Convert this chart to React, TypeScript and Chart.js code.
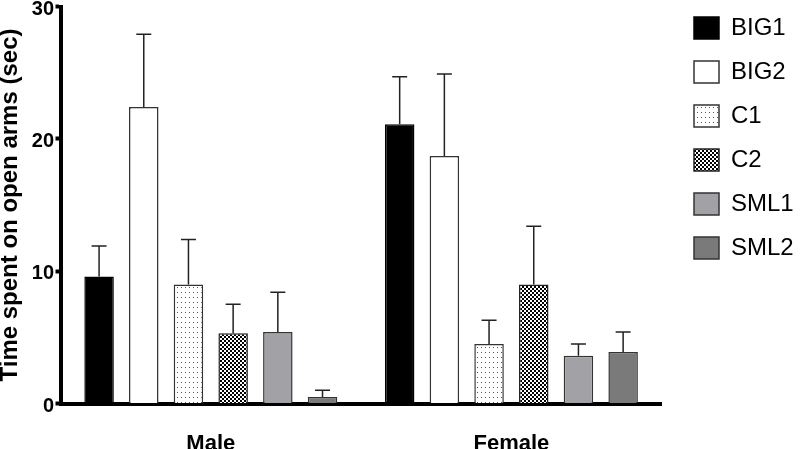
import React, { useEffect, useRef } from 'react';
import { Chart, registerables } from 'chart.js';

Chart.register(...registerables);

// ---- data ----
const categories = ['Male', 'Female'];
const seriesNames = ['BIG1', 'BIG2', 'C1', 'C2', 'SML1', 'SML2'];

const big1 = [9.6, 21.1];
const big1Sem = [2.3, 3.6];
const big2 = [22.4, 18.7];
const big2Sem = [5.5, 6.2];
const c1 = [9.0, 4.5];
const c1Sem = [3.4, 1.8];
const c2 = [5.3, 9.0];
const c2Sem = [2.2, 4.4];
const sml1 = [5.4, 3.6];
const sml1Sem = [3.0, 0.9];
const sml2 = [0.5, 3.9];
const sml2Sem = [0.5, 1.5];

const yMin = 0;
const yMax = 30;
const yStep = 10;
const yTitle = 'Time spent on open arms (sec)';

const FONT = "'Liberation Sans', Arial, Helvetica, sans-serif";

function makeDotPattern(): CanvasPattern | string {
  const c = document.createElement('canvas');
  c.width = 4;
  c.height = 5;
  const g = c.getContext('2d');
  if (!g) return '#fff';
  g.fillStyle = '#ffffff';
  g.fillRect(0, 0, 4, 5);
  g.fillStyle = '#555555';
  g.fillRect(1, 2, 1, 1);
  const p = g.createPattern(c, 'repeat');
  return p || '#fff';
}

function makeCheckPattern(): CanvasPattern | string {
  const c = document.createElement('canvas');
  c.width = 4;
  c.height = 4;
  const g = c.getContext('2d');
  if (!g) return '#444';
  g.fillStyle = '#ffffff';
  g.fillRect(0, 0, 4, 4);
  g.fillStyle = '#000000';
  g.fillRect(0, 0, 2, 2);
  g.fillRect(2, 2, 2, 2);
  const p = g.createPattern(c, 'repeat');
  return p || '#444';
}

const errorBarsPlugin = {
  id: 'errorBars',
  afterDatasetsDraw(chart: any) {
    const { ctx } = chart;
    const y = chart.scales.y;
    ctx.save();
    ctx.strokeStyle = '#222222';
    ctx.lineWidth = 1.5;
    chart.data.datasets.forEach((ds: any, i: number) => {
      const meta = chart.getDatasetMeta(i);
      meta.data.forEach((bar: any, j: number) => {
        const v = ds.data[j];
        const e = ds.sem[j];
        const yTop = y.getPixelForValue(v + e);
        const x = bar.x;
        ctx.beginPath();
        ctx.moveTo(x, bar.y);
        ctx.lineTo(x, yTop);
        ctx.moveTo(x - 7.5, yTop);
        ctx.lineTo(x + 7.5, yTop);
        ctx.stroke();
      });
    });
    ctx.restore();
  },
};

const legendPlacePlugin = {
  id: 'legendPlace',
  afterLayout(chart: any) {
    const lg = chart.legend;
    if (!lg) return;
    const w = lg.width;
    const h = lg.height;
    lg.left = 674;
    lg.right = lg.left + w;
    lg.top = -4;
    lg.bottom = lg.top + h;
  },
};

export default function App() {
  const ref = useRef<HTMLCanvasElement | null>(null);

  useEffect(() => {
    const canvas = ref.current;
    if (!canvas) return;
    document.body.style.margin = '0';

    const dots = makeDotPattern();
    const checks = makeCheckPattern();

    const values = [big1, big2, c1, c2, sml1, sml2];
    const sems = [big1Sem, big2Sem, c1Sem, c2Sem, sml1Sem, sml2Sem];
    const fills: any[] = ['#000000', '#ffffff', dots, checks, '#a2a2a6', '#7a7a7a'];
    const borders = ['#000000', '#333333', '#333333', '#222222', '#333333', '#333333'];

    const datasets = seriesNames.map((name, i) => ({
      label: name,
      data: values[i],
      sem: sems[i],
      backgroundColor: fills[i],
      borderColor: borders[i],
      borderWidth: 1.5,
      barPercentage: 0.66,
      categoryPercentage: 0.892,
    }));

    const chart = new Chart(canvas, {
      type: 'bar',
      data: { labels: categories, datasets: datasets as any },
      plugins: [errorBarsPlugin, legendPlacePlugin],
      options: {
        animation: false,
        responsive: false,
        devicePixelRatio: 1,
        layout: { padding: { top: 6.5, right: 8.6, left: 0, bottom: 0 } },
        plugins: {
          tooltip: { enabled: false },
          legend: {
            display: true,
            position: 'right',
            align: 'start',
            labels: {
              boxWidth: 25,
              boxHeight: 22,
              padding: 20,
              color: '#000000',
              font: { family: FONT, size: 24 },
            },
          },
        },
        scales: {
          x: {
            type: 'category',
            grid: { display: false, drawTicks: false },
            border: { display: true, color: '#000000', width: 4 },
            ticks: {
              color: '#000000',
              font: { family: FONT, size: 22, weight: 'bold' },
              padding: 27,
              labelOffset: (ctx: any) => (ctx.index === 0 ? -10 : 0),
            },
            afterFit: (scale: any) => {
              scale.height = 45.5;
            },
          } as any,
          y: {
            type: 'linear',
            min: yMin,
            max: yMax,
            grid: {
              display: true,
              drawOnChartArea: false,
              drawTicks: true,
              tickLength: 5,
              tickWidth: 4,
              tickColor: '#000000',
            },
            border: { display: true, color: '#000000', width: 4 },
            ticks: {
              stepSize: yStep,
              color: '#000000',
              padding: 1.5,
              font: { family: FONT, size: 20, weight: 'bold', lineHeight: 0.5 },
              labelOffset: (ctx: any) => (ctx.tick && ctx.tick.value === yMax ? 7 : 2.5),
            },
            title: {
              display: true,
              text: yTitle,
              color: '#000000',
              padding: 0,
              font: { family: FONT, size: 24, weight: 'bold', lineHeight: 0.85 },
            },
            afterFit: (scale: any) => {
              scale.width = 60.5;
            },
          } as any,
        },
      },
    });

    return () => {
      chart.destroy();
    };
  }, []);

  return (
    <div style={{ position: 'fixed', left: 0, top: 0, width: 800, height: 449, background: '#fff' }}>
      <canvas ref={ref} width={800} height={449} style={{ display: 'block', width: 800, height: 449 }} />
    </div>
  );
}
